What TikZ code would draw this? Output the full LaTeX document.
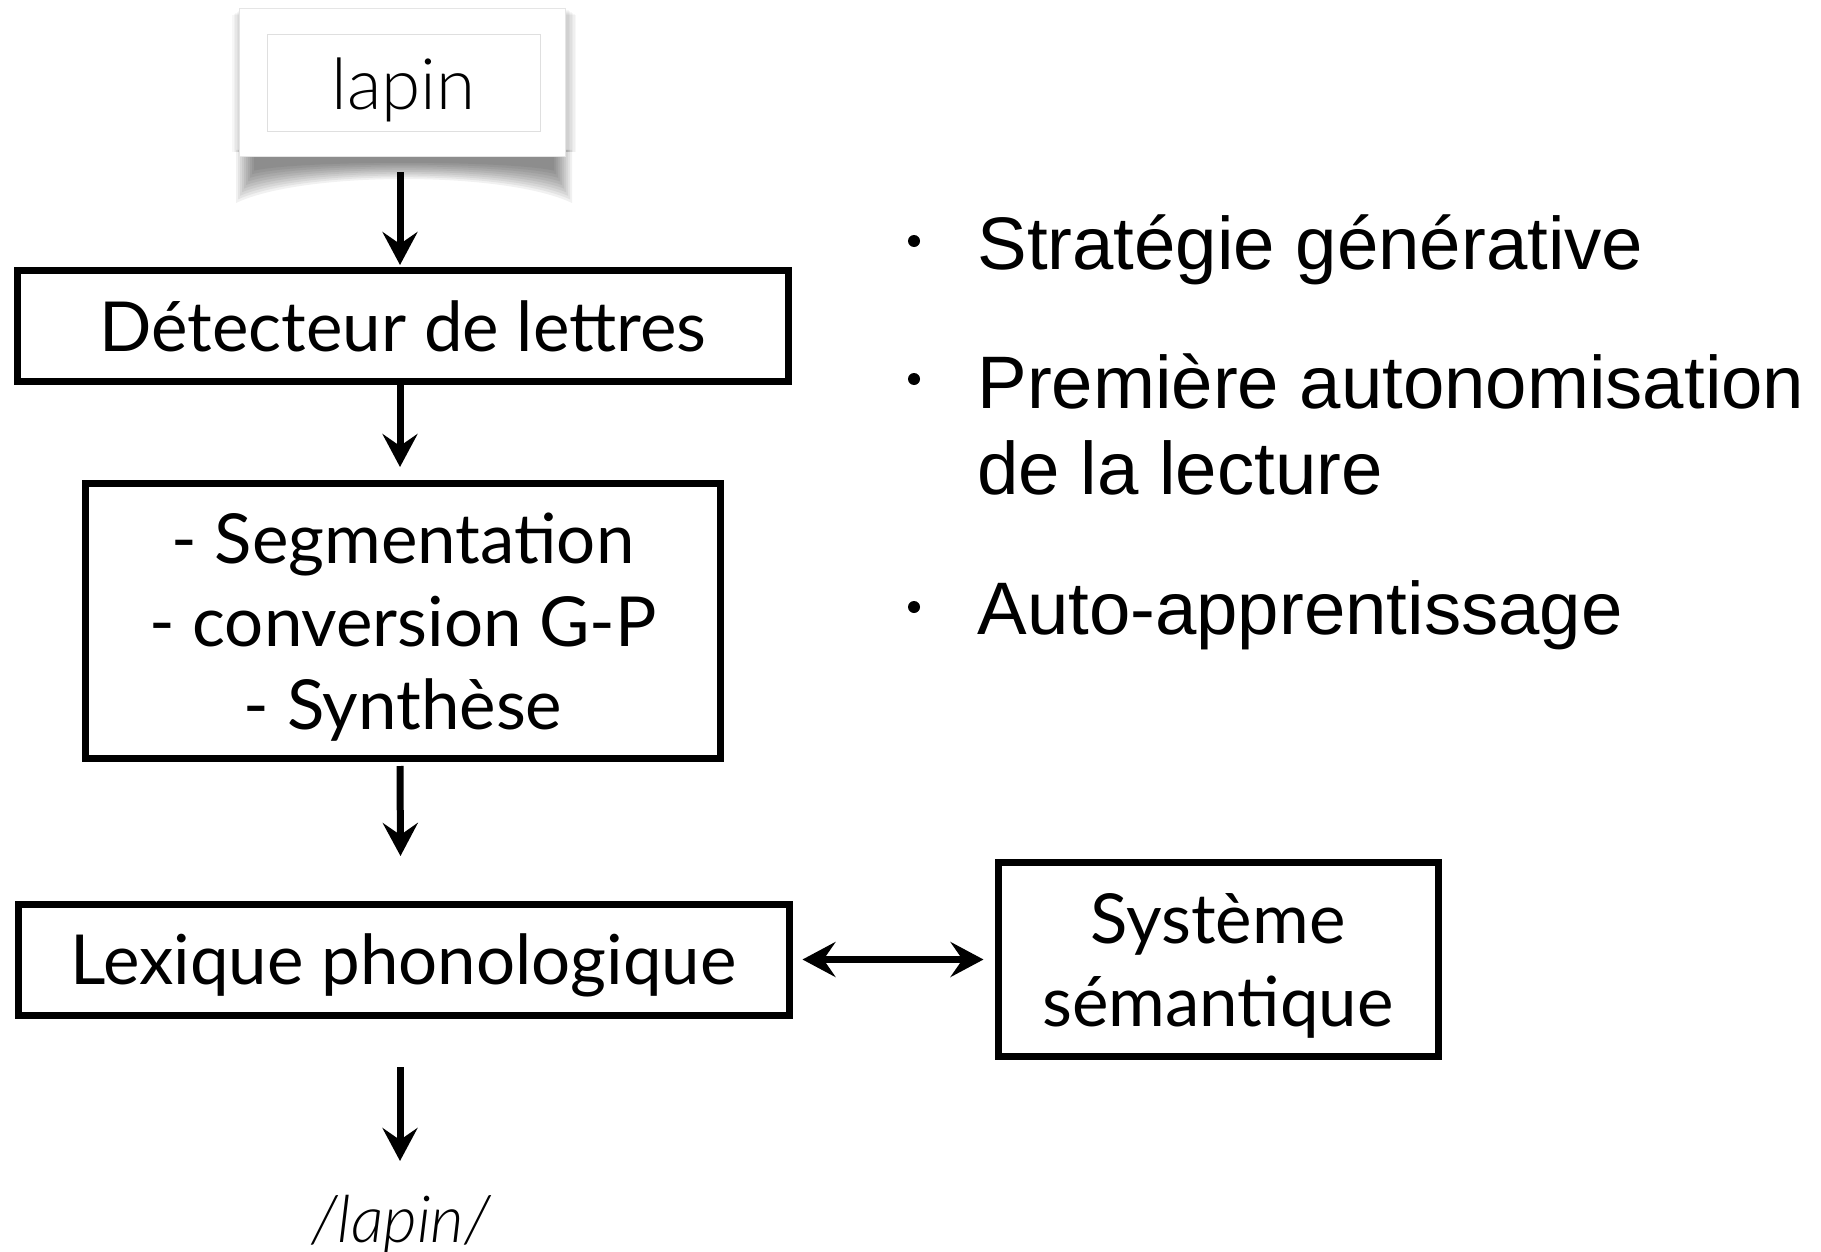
\documentclass[tikz,border=0pt]{standalone}
\usepackage{fontspec}
\setmainfont{Lato}
\newfontfamily\bulletfont{Liberation Sans}
\newfontfamily\lightfont{Lato Light}
\usetikzlibrary{arrows.meta,calc}
\begin{document}
\begin{tikzpicture}[x=0.5pt,y=-0.5pt,
  box/.style={draw, line width=3.5pt, inner sep=0pt, align=center,
    font=\fontsize{34.5}{41.5}\selectfont},
  arr/.style={line width=3.5pt, -{Stealth[length=16.5pt,width=17.5pt,inset=6pt]}},
  darr/.style={line width=3.5pt, {Stealth[length=16.5pt,width=17.5pt,inset=6pt]}-{Stealth[length=16.5pt,width=17.5pt,inset=6pt]}},
  btext/.style={anchor=base west, inner sep=0pt, font=\bulletfont\fontsize{37.2}{43}\selectfont, align=left},
  bdot/.style={circle, fill=black, inner sep=0pt, minimum size=6pt}
]
\useasboundingbox[fill=white] (0,0) rectangle (1821,1252);

% curled, blurred shadow of the card
\foreach \k in {0,...,9}{
  \fill[black, opacity=0.055]
    (236+\k*2,150) -- (572-\k*2,150) -- (572-\k*2,203-\k*3.6)
    .. controls (505,171-\k*1.2) and (303,171-\k*1.2) .. (236+\k*2,203-\k*3.6) -- cycle;
}
\foreach \i in {1,...,6}{
  \fill[black, opacity=0.03] (241-\i*1.5,9+\i) rectangle (567+\i*1.5,152);
}
% card
\node[draw=gray!20, fill=white, line width=0.5pt, minimum width=163pt, minimum height=74pt, inner sep=0pt] (card) at (402,83) {};
\node[draw=gray!25, line width=0.5pt, minimum width=136.5pt, minimum height=48.5pt, inner sep=0pt,
  text height=26.5pt, text depth=0pt,
  font=\lightfont\fontsize{35.5}{40}\selectfont] (word) at (403.5,83.5) {lapin};

\node[box, minimum width=385.5pt, minimum height=55.5pt, text height=25.2pt, text depth=0pt] (det) at (403,326) {Détecteur de lettres};
\node[box, minimum width=317.5pt, minimum height=137.5pt, text depth=0pt] (seg) at (403,621) {- Segmentation\\- conversion G-P\\- Synthèse};
\node[box, minimum width=385.5pt, minimum height=55.5pt, text height=24.5pt, text depth=0pt] (lex) at (403.5,960) {Lexique phonologique};
\node[box, minimum width=220pt, minimum height=97pt, text depth=0pt] (sys) at (1218,959.5) {Système\\sémantique};
\node[anchor=base, inner sep=0pt, font=\lightfont\itshape\fontsize{32.5}{38}\selectfont] (out) at (401,1242) {/lapin/};
\coordinate (outtop) at (400,1161);

\draw[arr] ($(card.south)+(-2,15)$) -- ($(det.north)+(-3,-2)$);
\draw[arr] ($(det.south)+(-3,-4)$) -- ($(seg.north)+(-3,-13)$);
\draw[arr] ($(seg.south)+(-3,4)$) -- ($(lex.north)+(-3,-45)$);
\draw[arr] ($(lex.south)+(-3.5,48)$) -- (outtop);
\draw[darr] ($(lex.east)+(10,-0.5)$) -- ($(sys.west)+(-11,0)$);

% bullet list
\node[bdot] (d1) at (914,241) {};
\node[btext] (t1) at (977,269) {Stratégie générative};
\node[bdot] (d2) at (914,379) {};
\node[btext] (t2) at (977,494) {Première autonomisation\\de la lecture};
\node[bdot] (d3) at (914,607) {};
\node[btext] (t3) at (977,634) {Auto-apprentissage};
\end{tikzpicture}
\end{document}
